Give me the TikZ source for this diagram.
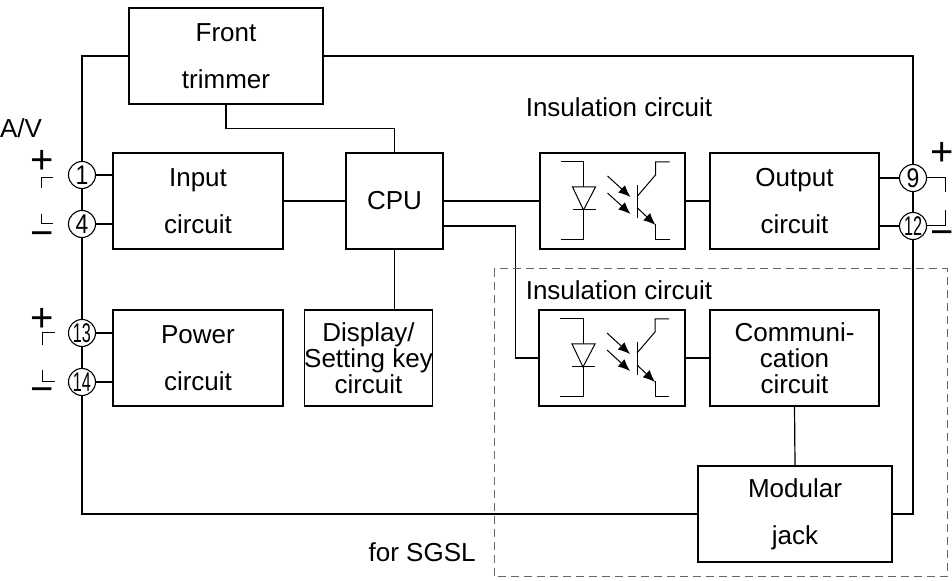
\documentclass[tikz,border=0pt]{standalone}
\usepackage{fontspec}
\setmainfont{Liberation Sans}
\usepackage{graphicx}
\usepackage{tikz}
\usetikzlibrary{arrows.meta,positioning,calc}

\tikzset{
  blk/.style={draw, line width=0.65pt, minimum width=#1, minimum height=48pt, align=center, inner sep=0pt},
  blk/.default=85pt,
  term/.style={draw, circle, fill=white, line width=0.55pt, minimum size=13.5pt, inner sep=0pt, font=\fontsize{13.5}{13.5}\selectfont},
  wire/.style={line width=0.6pt},
  sym/.style={line width=0.5pt},
  sign/.style={font=\fontsize{20}{20}\selectfont, inner sep=0pt},
  lbl/.style={inner sep=0pt}
}
\newcommand\tnum[2][0.85]{\scalebox{#1}[1]{#2}}
% optocoupler drawn round the centre of a node
\newcommand\optoc[1]{%
  \begin{scope}[shift={(#1.center)}, sym]
    \draw (-52,-39) -- (-29,-39) -- (-29,-14);
    \draw (-40,-14) -- (-17,-14) -- (-29,9) -- cycle;
    \draw (-40,9) -- (-17,9);
    \draw (-29,9) -- (-29,39) -- (-52,39);
    \draw[-{Latex[length=6pt,width=5pt]}] (-5,-25) -- (18,-4);
    \draw[-{Latex[length=6pt,width=5pt]}] (-5,-8) -- (18,13);
    \draw (25,-16) -- (25,17);
    \draw (25,-5) -- (43,-26) -- (43,-39) -- (57,-39);
    \draw[-{Latex[length=6pt,width=5pt]}] (25,7) -- (43,24);
    \draw (43,23) -- (43,39) -- (57,39);
  \end{scope}}

\begin{document}
\begin{tikzpicture}[x=0.5pt, y=-0.5pt, font=\fontsize{13}{13}\selectfont]
\useasboundingbox (0,0) rectangle (952,581);

% blocks
\node[blk=97pt]   (trim) at (226,56)    {Front\\[10.5pt]trimmer};
\node[blk]        (inp)  at (198,201)   {Input\\[10.5pt]circuit};
\node[blk=48.5pt] (cpu)  at (394.5,201) {CPU};
\node[blk=72.5pt] (ins1) at (612.5,201) {};
\node[blk=84.5pt] (outp) at (794.5,201) {Output\\[10.5pt]circuit};
\node[blk]        (pwr)  at (198,358)   {Power\\[10.5pt]circuit};
\node[blk=59.5pt] (disp) at (368.5,358) {Display/\\Setting key\\circuit};
\node[blk=73pt]   (ins2) at (612,358)   {};
\node[blk=84.5pt] (comm) at (794.5,358) {Communi-\\cation\\circuit};
\node[blk=97pt]   (jack) at (795,514)   {Modular\\[10.5pt]jack};

\optoc{ins1}
\optoc{ins2}

\node[lbl] (lins1) at (619,107) {Insulation circuit};
\node[lbl] (lins2) at (619,290) {Insulation circuit};
\node[lbl, anchor=east] (lsgsl) at (476,552) {for SGSL};
\node[lbl] (lav) at (21,128) {A/V};

% terminals
\node[term] (t1)  at (82,175)  {\tnum{1}};
\node[term] (t4)  at (82,224)  {\tnum{4}};
\node[term] (t13) at (82,333)  {\tnum[0.6]{13}};
\node[term] (t14) at (82,382)  {\tnum[0.6]{14}};
\node[term] (t9)  at (913,178) {\tnum{9}};
\node[term] (t12) at (913,226) {\tnum[0.6]{12}};

% outer wiring
\draw[wire] (trim.west) -| (t1.north);
\draw[wire] (trim.east) -| (t9.north);
\draw[wire] (t1) -- (t4);
\draw[wire] (t4) -- (t13);
\draw[wire] (t13) -- (t14);
\draw[wire] (t14.south) |- (jack.west);
\draw[wire] (jack.east) -| (t12.south);
\draw[wire] (t9) -- (t12);

\draw[wire] (t1) -- (t1 -| inp.west);
\draw[wire] (t4) -- (t4 -| inp.west);
\draw[wire] (t13) -- (t13 -| pwr.west);
\draw[wire] (t14) -- (t14 -| pwr.west);
\draw[wire] (t9) -- (t9 -| outp.east);
\draw[wire] (t12) -- (t12 -| outp.east);

% inner wiring
\draw[wire] (trim.south) -- ++(0,24) -| (cpu.north);
\draw[wire] (inp.east) -- (cpu.west);
\draw[wire] (cpu.east) -- (ins1.west);
\draw[wire] (ins1.east) -- (outp.west);
\draw[wire] ([yshift=-12.5pt]cpu.east) -- ++(72,0) |- (ins2.west);
\draw[wire] (cpu.south) -- (cpu.south |- disp.north);
\draw[wire] (ins2.east) -- (comm.west);
\draw[wire] (comm.south) -- (jack.north);

% polarity marks
\node[sign] (p1) at (42,162) {+};
\node[sign] (m1) at (42,239) {−};
\node[sign] (p2) at (42,320) {+};
\node[sign] (m2) at (42,395) {−};
\node[sign] (p3) at (942,154) {+};
\node[sign] (m3) at (942,238) {−};
\draw[sym] (53,178) -- (41,178) -- (41,188);
\draw[sym] (41,214) -- (41,224) -- (53,224);
\draw[sym] (55,333) -- (42,333) -- (42,345);
\draw[sym] (42,370) -- (42,382) -- (55,382);
\draw[sym] (t9.east) -- ++(18,0) -- ++(0,14);
\draw[sym] (t12.east) -- ++(18,0) -- ++(0,-16);

% option area
\draw[line width=0.5pt, dash pattern=on 4pt off 2.5pt, gray!80!black] (494,269) rectangle (947,577);
\end{tikzpicture}
\end{document}
